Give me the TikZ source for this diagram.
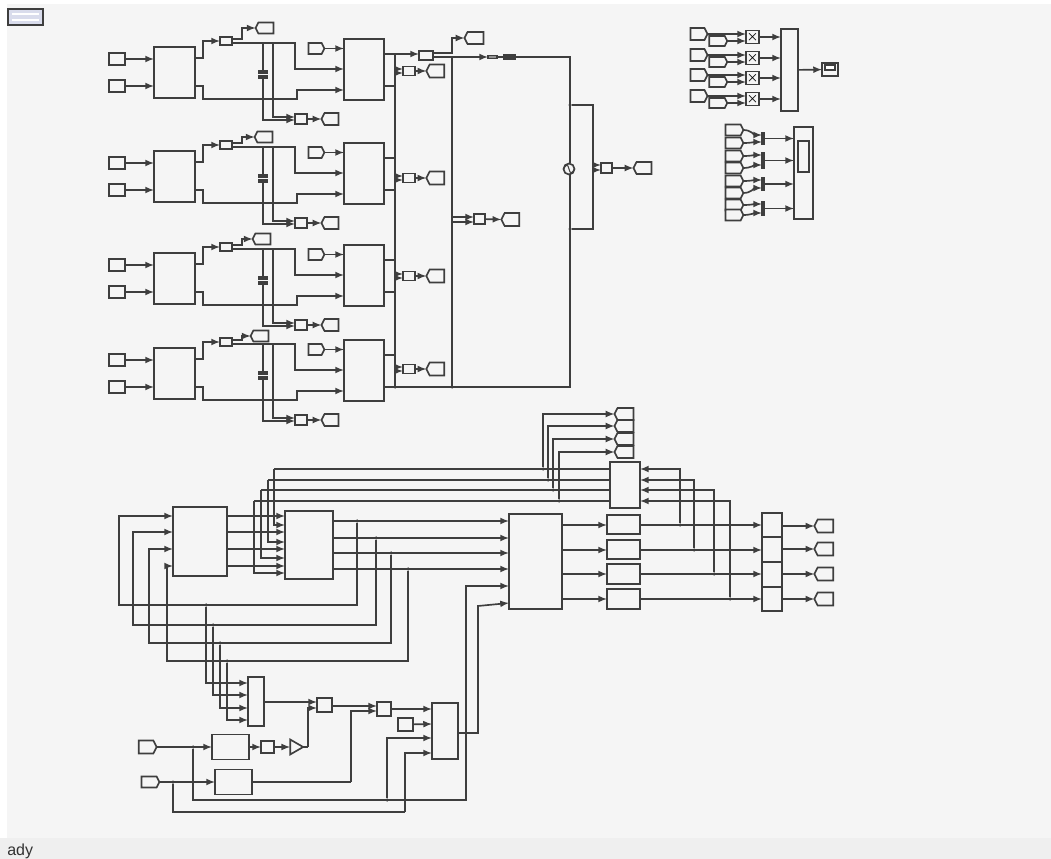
\documentclass[tikz,border=0pt]{standalone}
\usepackage{fontspec}
\setmainfont{Liberation Sans}
\usetikzlibrary{shapes.symbols,shapes.geometric}
\definecolor{sheet}{HTML}{F5F5F5}
\definecolor{strip}{HTML}{EFEFEF}
\definecolor{wirec}{HTML}{3E3E3E}
\definecolor{iconc}{HTML}{D9DCEC}
\begin{document}
\begin{tikzpicture}[x=0.75pt,y=-0.75pt,
    sz/.style 2 args={minimum width=#1*0.75pt,minimum height=#2*0.75pt}]
  \tikzstyle{block}=[draw=wirec,line width=1.25pt,inner sep=0pt,outer sep=0pt,fill=sheet]
  \tikzstyle{totag}=[block,signal,signal to=west,signal from=nowhere,signal pointer angle=125]
  \tikzstyle{fromtag}=[block,signal,signal to=east,signal from=nowhere,signal pointer angle=125]
  \tikzstyle{wire}=[draw=wirec,line width=1.25pt,-latex]
  \tikzstyle{line}=[draw=wirec,line width=1.25pt]
  \tikzstyle{dot}=[circle,fill=wirec,inner sep=0pt,sz={3.5}{3.5}]
  \useasboundingbox (0,0) rectangle (1051,859);
  \fill[white] (0,0) rectangle (1051,859);
  \fill[sheet] (7,4) rectangle (1051,838);
  \fill[strip] (0,838) rectangle (1051,859);
  \node[block,fill=iconc,sz={35}{16}] (icon) at (25.5,17) {};
  \node[fill=white,inner sep=0pt,sz={27}{2}] (iconu) at (25.5,14) {};
  \node[fill=white,inner sep=0pt,sz={27}{2}] (iconl) at (25.5,20) {};
  \node[anchor=base west,inner sep=0pt,font=\fontsize{12}{14}\selectfont,text=black!80] (status) at (7,855) {ady};

  % dc buses
  \coordinate (bustop) at (395,54);
  \coordinate (busbot) at (395,387);
  \coordinate (acbus) at (452,57);
  \coordinate (acbot) at (452,387);
  \coordinate (srcbot) at (570,387);
  \draw[line] (bustop) -- (busbot);
  \draw[line] (acbus) -- (acbot);

  % four converter rows
  \foreach \r/\dy/\gx/\gy/\by in {1/0/266/28/71, 2/104/265/137/178, 3/206/263/239/276, 4/301/261/336/369} {
    \node[block,sz={16}{12}] (inu\r) at (117,59+\dy) {};
    \node[block,sz={16}{12}] (inl\r) at (117,86+\dy) {};
    \node[block,sz={41}{51}] (conv\r) at (174.5,72.5+\dy) {};
    \node[block,sz={12}{8}] (tbox\r) at (226,41+\dy) {};
    \node[totag,sz={18}{11}] (ttag\r) at (\gx,\gy) {};
    \node[block,sz={40}{61}] (link\r) at (364,69.5+\dy) {};
    \node[fromtag,sz={16}{11}] (ftag\r) at (315,48.5+\dy) {};
    \node[block,sz={12}{10}] (bbox\r) at (301,119+\dy) {};
    \node[totag,sz={17}{12}] (btag\r) at (331.5,119+\dy) {};
    \node[block,fill=wirec,sz={9}{1.5}] (ptop\r) at (263,72+\dy) {};
    \node[block,fill=wirec,sz={9}{1.5}] (pbot\r) at (263,77+\dy) {};
    \node[dot] (cjn\r) at (263,99+\dy) {};
    \node[block,sz={12}{9}] (sbox\r) at (409,\by) {};
    \node[totag,sz={18}{13}] (stag\r) at (437,\by) {};
    \coordinate (cu\r) at (195,58+\dy);
    \coordinate (cl\r) at (195,86+\dy);
    \coordinate (tq\r) at (232,39+\dy);
    \coordinate (tr\r) at (232,43+\dy);
    \coordinate (tw\r) at (295,69+\dy);
    \coordinate (lka\r) at (344,69+\dy);
    \coordinate (lb\r) at (297,99+\dy);
    \coordinate (lkb\r) at (344,90+\dy);
    \coordinate (cpa\r) at (263,43+\dy);
    \coordinate (cpb\r) at (273,43+\dy);
    \coordinate (bia\r) at (295,120+\dy);
    \coordinate (bib\r) at (295,117+\dy);
    \coordinate (loa\r) at (384,54+\dy);
    \coordinate (lob\r) at (384,86+\dy);
    \coordinate (tu\r) at (403,\by-2);
    \coordinate (td\r) at (403,\by+2);
    \draw[wire] (inu\r) -- (conv\r.west |- inu\r);
    \draw[wire] (inl\r) -- (conv\r.west |- inl\r);
    \draw[wire] (cu\r) -- ++(8,0) |- (tbox\r.west);
    \draw[wire] (tq\r) -- ++(10,0) |- (ttag\r.west);
    \draw[wire] (tr\r) -| (tw\r) -- (lka\r);
    \draw[wire] (cl\r) -- ++(8,0) |- (lb\r) |- (lkb\r);
    \draw[wire] (ftag\r.east) -- (link\r.west |- ftag\r.east);
    \draw[line] (cpa\r) -- (ptop\r.north);
    \draw[wire] (pbot\r.south) |- (bia\r);
    \draw[wire] (cpb\r) |- (bib\r);
    \draw[wire] (bbox\r) -- (btag\r.west);
    \draw[line] (loa\r) -- (bustop |- loa\r);
    \draw[line] (lob\r) -- (bustop |- lob\r);
    \draw[wire] (bustop |- tu\r) -- (tu\r);
    \draw[wire] (bustop |- td\r) -- (td\r);
    \draw[wire] (sbox\r) -- (stag\r.west);
  }

  % ac side
  \node[block,sz={14}{9}] (head) at (426,55.5) {};
  \node[totag,sz={19}{12}] (vgrid) at (475.5,38) {};
  \node[block,fill=wirec!55,sz={9}{3}] (res) at (492.5,57) {};
  \node[block,fill=wirec,sz={11}{4}] (ind) at (509.5,57) {};
  \node[block,circle,sz={11}{11}] (vs) at (569,169) {};
  \node[block,sz={11}{10}] (mbox) at (479.5,219) {};
  \node[totag,sz={18}{13}] (mtag) at (512,219.5) {};
  \node[block,sz={11}{10}] (vbox) at (606.5,168) {};
  \node[totag,sz={18}{12}] (vtag) at (644,168) {};
  \node[dot] (da) at (570,105) {};
  \node[dot] (db) at (570,229) {};
  \node[dot] (acdot) at (452,387) {};
  \node[dot] (busdot) at (395,387) {};
  \coordinate (hq) at (433,53);
  \coordinate (hr) at (433,57);
  \coordinate (ma) at (474,217);
  \coordinate (mb) at (474,222);
  \coordinate (ra) at (593,105);
  \coordinate (rb) at (593,229);
  \coordinate (va) at (601,165);
  \coordinate (vb) at (601,170);
  \coordinate (srctop) at (570,57);
  \draw[wire] (loa1) -- (head.west |- loa1);
  \draw[wire] (hq) -- (acbus |- hq) |- (vgrid.west);
  \draw[wire] (hr) -- (res.west);
  \draw[line] (res.east) -- (ind.west);
  \draw[line] (ind.east) -- (srctop) -- (srctop |- vs.north);
  \draw[line] (srctop |- vs.south) -- (srcbot) -- (busbot);
  \draw[wire] (acbus |- ma) -- (ma);
  \draw[wire] (acbus |- mb) -- (mb);
  \draw[wire] (mbox) -- (mtag.west);
  \draw[line] (da) -- (ra) -- (rb) -- (db);
  \draw[wire] (ra |- va) -- (va);
  \draw[wire] (ra |- vb) -- (vb);
  \draw[wire] (vbox) -- (vtag.west);
  \draw[line,line width=.8pt] (vs.west) .. controls (566,164) and (568,164) .. (569,169) .. controls (570,174) and (572,174) .. (vs.east);

  % scopes top right
  \node[block,sz={17}{82}] (mux2) at (789.5,70) {};
  \node[block,sz={16}{13}] (scp) at (830,69.5) {};
  \node[block,fill=white,sz={10}{5}] (scpin) at (830,67.5) {};
  \foreach \j/\ya/\yb/\yc in {1/34/41/37, 2/55/62/58, 3/75/82/78, 4/96/103/99} {
    \node[fromtag,sz={17}{12}] (ua\j) at (697.5,\ya) {};
    \node[fromtag,sz={18}{10}] (ub\j) at (717,\yb) {};
    \node[block,sz={13}{13},font=\boldmath] (pr\j) at (752.5,\yc) {$\times$};
    \draw[wire] (ua\j.east) -- (pr\j.west |- ua\j.east);
    \draw[wire] (ub\j.east) -- (pr\j.west |- ub\j.east);
    \draw[wire] (pr\j) -- (mux2.west |- pr\j);
  }
  \draw[wire] (mux2) -- (scp);
  \node[block,sz={19}{92}] (sc2) at (803.5,173) {};
  \node[block,sz={11}{31}] (sc2in) at (803.5,156.5) {};
  \foreach \b/\y/\h in {1/138.5/11, 2/160.5/15, 3/184/12, 4/208.5/13} {
    \node[block,fill=wirec,sz={2.5}{\h}] (bar\b) at (763,\y) {};
    \draw[wire] (bar\b.east) -- (sc2.west |- bar\b.east);
  }
  \foreach \k/\yt/\yp in {1/130/135, 2/143/142, 3/156/155, 4/168/165, 5/181/180, 6/193/188, 7/205/204, 8/215/213} {
    \node[fromtag,sz={18}{11}] (vtg\k) at (733,\yt) {};
    \coordinate (bp\k) at (762,\yp);
    \draw[wire] (vtg\k.east) to[out=0,in=180] (bp\k);
  }

  % control blocks
  \node[block,sz={54}{69}] (ctrl) at (200,541.5) {};
  \node[block,sz={48}{68}] (dq) at (309,545) {};
  \node[block,sz={53}{95}] (pwm) at (535.5,561.5) {};
  \node[block,sz={30}{46}] (fb) at (625,485) {};
  \node[block,sz={16}{49}] (mx) at (256,701.5) {};
  \foreach \i/\yc/\yo/\yd/\xl/\xr/\yb/\xt/\yt/\ytag in {
      1/516/521/525/119/357/605/274/469/414,
      2/532/538/542/133/376/625/268/480/426,
      3/549/553/558/149/391/643/261/490/439,
      4/566/569/573/167/408/661/254/501/452} {
    \coordinate (ci\i) at (173,\yc);
    \coordinate (co\i) at (227,\yc);
    \coordinate (dj\i) at (285,\yd);
    \coordinate (do\i) at (333,\yo);
    \coordinate (ei\i) at (509,\yo);
    \coordinate (fxa\i) at (\xr,\yb);
    \coordinate (fxb\i) at (\xl,\yb);
    \node[dot] (fdot\i) at (\xr,\yo) {};
    \coordinate (vt\i) at (\xt,\yt);
    \coordinate (fi\i) at (610,\yt);
    \coordinate (fo\i) at (640,\yt);
    \node[totag,sz={19}{12}] (tp\i) at (625.5,\ytag) {};
    \draw[wire] (co\i) -- (dq.west |- co\i);
    \draw[wire] (vt\i) |- (dj\i);
    \draw[line] (vt\i) -- (fi\i);
    \draw[wire] (do\i) -- (ei\i);
    \draw[wire] (fdot\i) -- (fxa\i) -- (fxb\i) |- (ci\i);
  }
  \foreach \i/\x/\yk in {1/206/605, 2/213/625, 3/220/643, 4/227/661} {
    \node[dot] (md\i) at (\x,\yk) {};
  }
  \foreach \i/\y in {1/683, 2/695, 3/708, 4/720} {
    \coordinate (mi\i) at (248,\y);
    \draw[wire] (md\i) |- (mi\i);
  }
  \foreach \i/\x/\yy in {1/543/469, 2/548/480, 3/553/490, 4/559/501} {
    \node[dot] (tt\i) at (\x,\yy) {};
    \draw[wire] (tt\i) |- (tp\i.west);
  }
  % drivers and gates
  \foreach \i/\yd/\hd/\yt/\xg/\ye in {1/524.5/19/526/680/525, 2/549.5/19/549/694/550, 3/574/20/574/714/574, 4/599/20/599/730/599} {
    \node[block,sz={33}{\hd}] (drv\i) at (623.5,\yd) {};
    \node[totag,sz={19}{13}] (gt\i) at (825.5,\yt) {};
    \coordinate (eo\i) at (562,\ye);
    \node[dot] (gd\i) at (\xg,\ye) {};
    \draw[wire] (eo\i) -- (drv\i.west |- eo\i);
    \draw[wire] (gd\i) |- (fo\i);
  }
  \node[block,sz={20}{24}] (gate1) at (772,525) {};
  \node[block,sz={20}{25}] (gate2) at (772,549.5) {};
  \node[block,sz={20}{25}] (gate3) at (772,574.5) {};
  \node[block,sz={20}{24}] (gate4) at (772,599) {};
  \foreach \i in {1,2,3,4} {
    \draw[wire] (drv\i.east |- gd\i) -- (gate\i.west |- gd\i);
    \draw[wire] (gate\i.east |- gt\i) -- (gt\i.west);
  }

  % bottom chain
  \node[fromtag,sz={18}{13}] (ktag) at (146,747) {};
  \node[fromtag,sz={18}{11}] (ltag) at (149,782) {};
  \node[block,sz={37}{25}] (lpf) at (230.5,747) {};
  \node[block,sz={13}{12}] (abs) at (267.5,747) {};
  \node[block,isosceles triangle,isosceles triangle stretches,sz={15}{13}] (gain) at (294.5,747) {};
  \node[block,sz={15}{14}] (sm) at (324.5,705) {};
  \node[block,sz={14}{14}] (nn) at (384,709) {};
  \node[block,sz={37}{25}] (fil) at (233.5,782) {};
  \node[block,sz={15}{13}] (cst) at (405.5,724.5) {};
  \node[block,sz={26}{56}] (mpc) at (445,731) {};
  \node[dot] (ka) at (193,747) {};
  \node[dot] (kb) at (173,782) {};
  \node[dot] (kd) at (387,800) {};
  \coordinate (si) at (317,702);
  \coordinate (sj) at (317,708);
  \coordinate (ni) at (377,706);
  \coordinate (nj) at (377,711);
  \coordinate (gup) at (308,747);
  \coordinate (fup) at (351,782);
  \coordinate (kc) at (466,800);
  \coordinate (ke) at (405,812);
  \coordinate (ei5) at (509,586);
  \coordinate (ei6) at (509,603);
  \coordinate (epk) at (478,606);
  \coordinate (pi1) at (432,709);
  \coordinate (pi2) at (432,724);
  \coordinate (pi3) at (432,738);
  \coordinate (pi4) at (432,753);
  \coordinate (po) at (458,733);
  \draw[wire] (mx.east |- si) -- (si);
  \draw[wire] (ktag.east) -- (lpf.west);
  \draw[wire] (lpf) -- (abs);
  \draw[wire] (abs) -- (gain.west);
  \draw[line] (gain.east) -- (gup);
  \draw[wire] (gup) |- (sj);
  \draw[wire] (sm.east |- ni) -- (ni);
  \draw[wire] (ltag.east) -- (fil.west);
  \draw[line] (fil.east) -- (fup);
  \draw[wire] (fup) |- (nj);
  \draw[wire] (nn.east |- pi1) -- (pi1);
  \draw[wire] (cst) -- (pi2);
  \draw[wire] (ka) |- (kc) |- (ei5);
  \draw[wire] (kd) |- (pi3);
  \draw[line] (kb) |- (ke);
  \draw[wire] (ke) |- (pi4);
  \draw[wire] (po) -| (epk) -- (ei6);
\end{tikzpicture}
\end{document}
